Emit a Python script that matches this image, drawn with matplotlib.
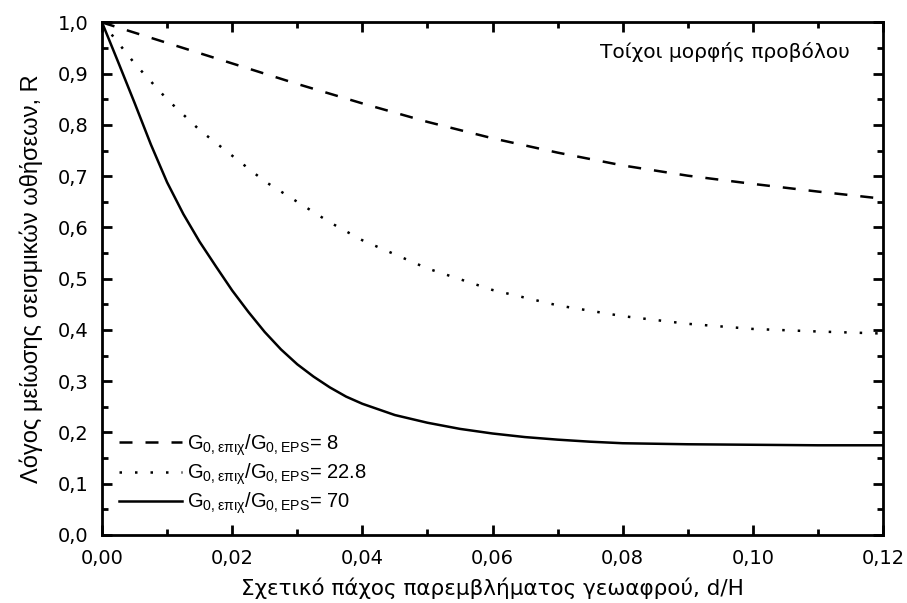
import matplotlib
matplotlib.use('Agg')
import matplotlib.pyplot as plt
from matplotlib.ticker import MultipleLocator, FuncFormatter

plt.rcParams['font.family'] = ['Liberation Sans', 'DejaVu Sans']
plt.rcParams['mathtext.fontset'] = 'custom'
plt.rcParams['mathtext.rm'] = 'Liberation Sans'

# G0,epix/G0,EPS = 8 (dashed)
d_8 = [0.0, 0.01, 0.02, 0.03, 0.04, 0.05, 0.06, 0.07, 0.08, 0.09, 0.10, 0.11, 0.12]
r_8 = [1.0, 0.96, 0.92, 0.88, 0.842, 0.806, 0.774, 0.746, 0.721, 0.701, 0.685, 0.670, 0.656]

# = 22.8 (dotted)
d_22 = [0.0, 0.005, 0.01, 0.015, 0.02, 0.025, 0.03, 0.035, 0.04, 0.05, 0.06, 0.07,
        0.08, 0.09, 0.10, 0.11, 0.12]
r_22 = [1.0, 0.92, 0.85, 0.79, 0.74, 0.69, 0.65, 0.61, 0.575, 0.52, 0.478, 0.448,
        0.427, 0.412, 0.402, 0.397, 0.393]

# = 70 (solid)
d_70 = [0.0, 0.0025, 0.005, 0.0075, 0.01, 0.0125, 0.015, 0.0175, 0.02, 0.0225,
        0.025, 0.0275, 0.03, 0.0325, 0.035, 0.0375, 0.04, 0.045, 0.05, 0.055,
        0.06, 0.065, 0.07, 0.075, 0.08, 0.09, 0.10, 0.11, 0.12]
r_70 = [1.0, 0.922, 0.843, 0.762, 0.688, 0.626, 0.572, 0.524, 0.477, 0.435,
        0.396, 0.362, 0.333, 0.309, 0.288, 0.270, 0.256, 0.234, 0.219, 0.207,
        0.198, 0.191, 0.186, 0.182, 0.179, 0.177, 0.176, 0.175, 0.175]

labels = [r'G$_{\mathregular{0, επιχ}}$/G$_{\mathregular{0, EPS}}$= 8',
          r'G$_{\mathregular{0, επιχ}}$/G$_{\mathregular{0, EPS}}$= 22.8',
          r'G$_{\mathregular{0, επιχ}}$/G$_{\mathregular{0, EPS}}$= 70']

fig = plt.figure(figsize=(9.07, 6.03), dpi=100)
ax = fig.add_axes([0.1125, 0.1128, 0.861, 0.85])

ax.plot(d_8, r_8, color='black', lw=1.8, linestyle=(0, (5.2, 5.2)), label=labels[0])
ax.plot(d_22, r_22, color='black', lw=1.8, linestyle=(0, (1, 5.2)), label=labels[1])
ax.plot(d_70, r_70, color='black', lw=1.8, linestyle='-', label=labels[2])

ax.set_xlim(0, 0.12)
ax.set_ylim(0, 1.0)
ax.xaxis.set_major_locator(MultipleLocator(0.02))
ax.xaxis.set_minor_locator(MultipleLocator(0.01))
ax.yaxis.set_major_locator(MultipleLocator(0.1))
ax.yaxis.set_minor_locator(MultipleLocator(0.05))
ax.xaxis.set_major_formatter(FuncFormatter(lambda v, p: f'{v:.2f}'.replace('.', ',')))
ax.yaxis.set_major_formatter(FuncFormatter(lambda v, p: f'{v:.1f}'.replace('.', ',')))

ax.tick_params(which='both', direction='in', top=True, right=True, labelsize=14, width=2)
ax.tick_params(which='major', length=7)
ax.tick_params(axis='x', which='major', pad=10)
ax.tick_params(axis='y', which='major', pad=10)
ax.tick_params(which='minor', length=4)
for s in ax.spines.values():
    s.set_linewidth(2)
for t in ax.get_xticklabels() + ax.get_yticklabels():
    t.set_family('DejaVu Sans')

ax.set_xlabel('Σχετικό πάχος παρεμβλήματος γεωαφρού, d/H', fontsize=15.5,
              family='DejaVu Sans', labelpad=7)
ax.set_ylabel('Λόγος μείωσης σεισμικών ωθήσεων, R', fontsize=17, labelpad=10)

ax.text(0.958, 0.942, 'Τοίχοι μορφής προβόλου', transform=ax.transAxes,
        ha='right', va='center', fontsize=14.5, family='DejaVu Sans')

ax.legend(loc='lower left', bbox_to_anchor=(0.022, 0.037), frameon=False, fontsize=14.5,
          handlelength=3.1, handletextpad=0.25, labelspacing=0.18,
          borderaxespad=0, borderpad=0)

fig.savefig('out.png', dpi=100)
